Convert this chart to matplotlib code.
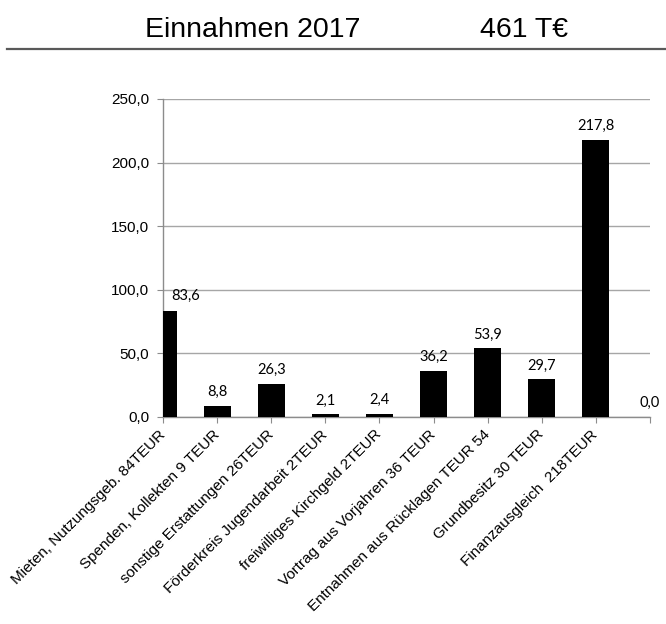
import numpy as np
import matplotlib
matplotlib.use('Agg')
import matplotlib.pyplot as plt
from matplotlib.lines import Line2D
from matplotlib.ticker import FuncFormatter

# Daten
kategorien = ['Mieten, Nutzungsgeb. 84TEUR', 'Spenden, Kollekten 9 TEUR',
              'sonstige Erstattungen 26TEUR', 'Förderkreis Jugendarbeit 2TEUR',
              'freiwilliges Kirchgeld 2TEUR', 'Vortrag aus Vorjahren 36 TEUR',
              'Entnahmen aus Rücklagen TEUR 54', 'Grundbesitz 30 TEUR',
              'Finanzausgleich  218TEUR', '']
werte = [83.6, 8.8, 26.3, 2.1, 2.4, 36.2, 53.9, 29.7, 217.8, 0.0]
titel = 'Einnahmen 2017'
summe = '461 T€'
y_ticks = [0, 50, 100, 150, 200, 250]

plt.rcParams['font.family'] = ['Liberation Sans', 'DejaVu Sans']

fig = plt.figure(figsize=(6.66, 6.24), dpi=100)
ax = fig.add_axes([163/666, 1 - 417/624, (650 - 163)/666, (417 - 99)/624])

x = np.arange(len(werte))
ax.bar(x, werte, width=0.5, color='black', zorder=3)

ax.set_xlim(0, len(werte) - 1)
ax.set_ylim(0, 250)
ax.set_yticks(y_ticks)
ax.yaxis.set_major_formatter(FuncFormatter(lambda v, p: f'{v:.1f}'.replace('.', ',')))
ax.grid(axis='y', color='#a6a6a6', linewidth=1, zorder=0)
ax.set_axisbelow(True)

for s in ['top', 'right']:
    ax.spines[s].set_visible(False)
for s in ['left', 'bottom']:
    ax.spines[s].set_color('#8c8c8c')
    ax.spines[s].set_linewidth(1)

ax.tick_params(axis='y', length=4, color='#8c8c8c', pad=6, labelsize=11)
ax.tick_params(axis='x', length=4, color='#8c8c8c', pad=7, labelsize=11)
ax.set_xticks(x)
ax.set_xticklabels(kategorien, rotation=45, ha='right', va='center',
                   rotation_mode='anchor')

# Datenbeschriftungen
for i, v in enumerate(werte):
    txt = f'{v:.1f}'.replace('.', ',')
    if i == 0:
        ax.annotate(txt, (x[i], v), xytext=(6, 8), textcoords='offset points',
                    ha='left', va='baseline', fontsize=10.5, family=['Lato', 'DejaVu Sans'])
    else:
        ax.annotate(txt, (x[i], v), xytext=(0, 7), textcoords='offset points',
                    ha='center', va='baseline', fontsize=10.5, family=['Lato', 'DejaVu Sans'],
                    annotation_clip=False)

# Titel und Linie
fig.text(145/666, 1 - 37/624, titel, fontsize=20.5, va='baseline', ha='left')
fig.text(480/666, 1 - 37/624, summe, fontsize=20.5, va='baseline', ha='left')
fig.add_artist(Line2D([7/666, 1], [1 - 49/624, 1 - 49/624], transform=fig.transFigure,
                      color='#595959', linewidth=1.6))

fig.savefig('out.png', dpi=100)
